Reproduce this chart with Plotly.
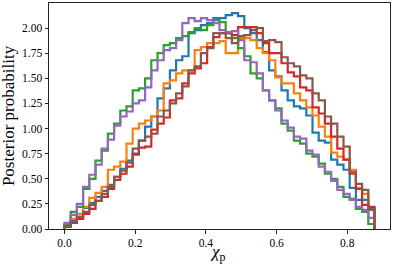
import numpy as np
import plotly.graph_objects as go

# bin edges (50 bins from 0 to ~0.877)
x_min = 0.0
x_max = 0.877
n_bins = 50

blue = [0.04, 0.08, 0.12, 0.21, 0.26, 0.32, 0.38, 0.44, 0.52, 0.60,
        0.68, 0.75, 0.88, 1.02, 1.12, 1.30, 1.40, 1.58, 1.68, 1.72,
        1.95, 1.98, 2.03, 2.05, 2.10, 2.10, 2.13, 2.15, 2.12, 2.00,
        1.95, 1.88, 1.76, 1.58, 1.52, 1.38, 1.28, 1.22, 1.20, 1.13,
        0.96, 0.88, 0.86, 0.69, 0.64, 0.59, 0.41, 0.29, 0.29, 0.19]
orange = [0.03, 0.10, 0.15, 0.22, 0.31, 0.36, 0.42, 0.59, 0.62, 0.67,
          0.85, 1.00, 1.05, 1.08, 1.12, 1.18, 1.45, 1.48, 1.55, 1.58,
          1.58, 1.78, 1.81, 1.85, 1.85, 1.87, 1.75, 1.75, 1.90, 1.90,
          1.88, 1.80, 1.75, 1.68, 1.51, 1.45, 1.45, 1.35, 1.28, 1.21,
          1.13, 1.02, 0.92, 0.76, 0.72, 0.69, 0.59, 0.41, 0.35, 0.21]
green = [0.05, 0.17, 0.22, 0.40, 0.50, 0.68, 0.78, 0.95, 1.05, 1.18,
         1.22, 1.38, 1.40, 1.50, 1.68, 1.75, 1.83, 1.85, 1.90, 1.92,
         1.96, 2.00, 1.98, 2.03, 2.08, 2.06, 1.95, 1.90, 1.80, 1.72,
         1.55, 1.50, 1.38, 1.28, 1.20, 1.05, 0.98, 0.88, 0.85, 0.75,
         0.72, 0.65, 0.55, 0.50, 0.42, 0.32, 0.30, 0.20, 0.17, 0.05]
red = [0.02, 0.06, 0.10, 0.15, 0.20, 0.28, 0.32, 0.40, 0.49, 0.55,
       0.62, 0.74, 0.81, 0.82, 0.99, 1.05, 1.11, 1.28, 1.30, 1.45,
       1.55, 1.60, 1.65, 1.81, 1.91, 1.95, 1.95, 1.93, 2.01, 2.01,
       2.01, 1.95, 1.85, 1.75, 1.75, 1.65, 1.56, 1.52, 1.41, 1.38,
       1.21, 1.15, 1.05, 0.92, 0.80, 0.69, 0.55, 0.40, 0.24, 0.22]
purple = [0.06, 0.14, 0.25, 0.42, 0.54, 0.64, 0.80, 0.89, 1.03, 1.12,
          1.17, 1.25, 1.28, 1.41, 1.58, 1.68, 1.78, 1.80, 1.88, 2.05,
          2.10, 2.07, 2.10, 2.08, 2.05, 1.98, 1.96, 1.97, 1.88, 1.68,
          1.66, 1.55, 1.38, 1.28, 1.18, 1.08, 1.01, 0.92, 0.90, 0.78,
          0.74, 0.62, 0.57, 0.48, 0.39, 0.35, 0.29, 0.22, 0.19, 0.11]
brown = [0.03, 0.07, 0.12, 0.17, 0.24, 0.28, 0.35, 0.42, 0.52, 0.58,
         0.66, 0.80, 0.88, 0.92, 0.95, 1.12, 1.18, 1.25, 1.35, 1.42,
         1.58, 1.62, 1.75, 1.80, 1.95, 1.95, 1.90, 1.85, 1.92, 1.93,
         1.98, 2.00, 1.87, 1.88, 1.86, 1.71, 1.65, 1.62, 1.53, 1.50,
         1.35, 1.28, 1.12, 1.05, 0.92, 0.82, 0.57, 0.45, 0.39, 0.20]

series = [
    (blue, "#1f77b4"),
    (orange, "#ff7f0e"),
    (green, "#2ca02c"),
    (red, "#d62728"),
    (purple, "#9467bd"),
    (brown, "#8c564b"),
]

x_ticks = [0.0, 0.2, 0.4, 0.6, 0.8]
x_tick_labels = ["0.0", "0.2", "0.4", "0.6", "0.8"]
y_ticks = [0.0, 0.25, 0.5, 0.75, 1.0, 1.25, 1.5, 1.75, 2.0]
y_tick_labels = ["0.00", "0.25", "0.50", "0.75", "1.00", "1.25", "1.50", "1.75", "2.00"]

edges = np.linspace(x_min, x_max, n_bins + 1)

fig = go.Figure()
for vals, col in series:
    xs = [edges[0]] + list(edges[:-1]) + [edges[-1], edges[-1]]
    ys = [0.0] + list(vals) + [vals[-1], 0.0]
    fig.add_trace(go.Scatter(x=xs, y=ys, mode="lines", line=dict(color=col, width=2.2, shape="hv"),
                             showlegend=False, hoverinfo="skip"))

span = x_max - x_min
serif = "Liberation Serif, Times New Roman, serif"
axis_common = dict(showgrid=False, zeroline=False, showline=True, linecolor="#222", linewidth=1,
                   mirror=True, ticks="outside", ticklen=3.5, tickwidth=0.8, tickcolor="#222",
                   tickfont=dict(family=serif, size=11.5, color="black"), automargin=False)
fig.update_layout(
    width=399, height=266,
    margin=dict(l=49, r=9, t=3, b=37, autoexpand=False),
    plot_bgcolor="white", paper_bgcolor="white",
    font=dict(family=serif, size=11, color="black"),
    xaxis=dict(range=[x_min - 0.05 * span, x_max + 0.05 * span], tickvals=x_ticks,
               ticktext=x_tick_labels, **axis_common),
    yaxis=dict(range=[0, 2.25], tickvals=y_ticks, ticktext=y_tick_labels, **axis_common),
    annotations=[
        dict(text="Posterior probability", xref="paper", yref="paper", x=-0.12, y=0.5,
             xanchor="center", yanchor="middle", textangle=-90, showarrow=False,
             font=dict(family=serif, size=17, color="black")),
        dict(text="<i>χ</i><sub>p</sub>", xref="paper", yref="paper", x=0.493, y=-0.105,
             xanchor="center", yanchor="middle", showarrow=False,
             font=dict(family=serif, size=17, color="black")),
    ],
)
fig.write_html("out.html", config={"displayModeBar": False},
               post_script="document.body.style.margin='0px';document.body.style.padding='0px';")
